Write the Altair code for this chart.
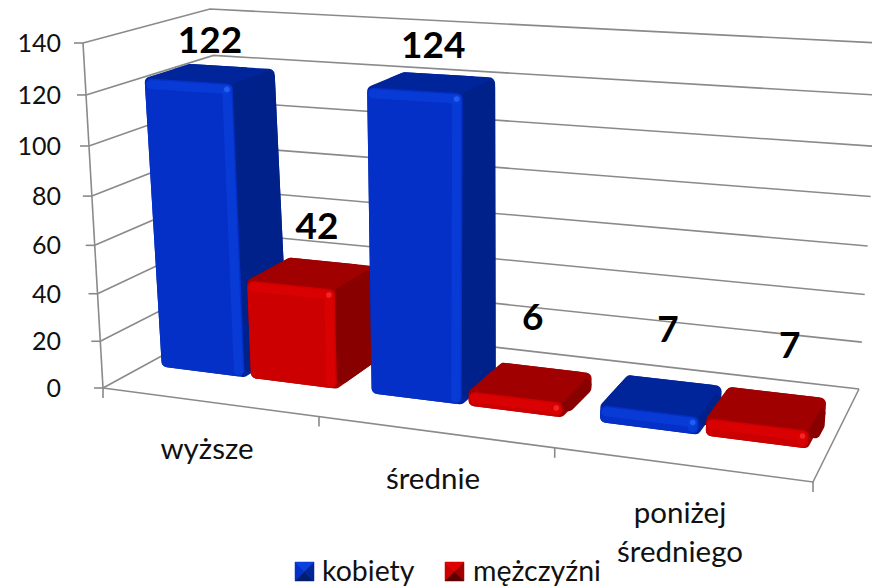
import altair as alt
import pandas as pd

# ---- data ----
categories = ["wyższe", "średnie", "poniżej średniego"]
series_names = ["kobiety", "mężczyźni"]
kobiety = [122, 124, 7]
mezczyzni = [42, 6, 7]
y_ticks = [0, 20, 40, 60, 80, 100, 120, 140]

# ---- scene geometry: corners of the 3D box as seen in the picture ----
FLOOR = [(103, 388), (813, 482), (859, 389), (233, 317)]   # FL, FR, BR, BL
CEIL = [(83, 43), (840, 87), (880, 43), (210, 9)]
VMAX = 140.0
BAR_W = 0.135
D0, D1 = 0.30, 0.66
GROUP_C = [1 / 6, 1 / 2, 5 / 6]
LINE = "#8a8a8a"
PAL = {
    "kobiety": dict(front="#0530C8", top="#00249A", side="#00208A", hi="#0A40DC", glint="#2868F4", dark="#001E70"),
    "mężczyźni": dict(front="#CC0000", top="#A00000", side="#880000", hi="#DE0202", glint="#F83030", dark="#5E0000"),
}


def homography(q):
    (x0, y0), (x1, y1), (x2, y2), (x3, y3) = q
    dx1, dx2, sx = x1 - x2, x3 - x2, x0 - x1 + x2 - x3
    dy1, dy2, sy = y1 - y2, y3 - y2, y0 - y1 + y2 - y3
    den = dx1 * dy2 - dx2 * dy1
    g = (sx * dy2 - dx2 * sy) / den
    h = (dx1 * sy - sx * dy1) / den
    a, b, c = x1 - x0 + g * x1, x3 - x0 + h * x3, x0
    d, e, f = y1 - y0 + g * y1, y3 - y0 + h * y3, y0
    def m(u, v):
        w = g * u + h * v + 1
        return (a * u + b * v + c) / w, (d * u + e * v + f) / w
    return m


H0, H1 = homography(FLOOR), homography(CEIL)


def P(u, d, val):
    t = val / VMAX
    k = 0.06
    f = t * (1 - k) / (1 - k * t)
    xa, ya = H0(u, d)
    xb, yb = H1(u, d)
    return xa + (xb - xa) * f, ya + (yb - ya) * f


def inset(pts, r):
    """Offset every edge of a convex polygon inwards by r and intersect neighbours."""
    n = len(pts)
    area = sum(pts[i][0] * pts[(i + 1) % n][1] - pts[(i + 1) % n][0] * pts[i][1] for i in range(n))
    sign = 1 if area > 0 else -1
    lines = []
    for i in range(n):
        (x0, y0), (x1, y1) = pts[i], pts[(i + 1) % n]
        dx, dy = x1 - x0, y1 - y0
        ln = (dx * dx + dy * dy) ** 0.5
        nx, ny = -dy / ln * sign, dx / ln * sign
        lines.append((x0 + nx * r, y0 + ny * r, dx, dy))
    out = []
    for i in range(n):
        ax, ay, adx, ady = lines[i - 1]
        bx, by, bdx, bdy = lines[i]
        den = adx * bdy - ady * bdx
        if abs(den) < 1e-9:
            out.append((bx, by))
            continue
        t = ((bx - ax) * bdy - (by - ay) * bdx) / den
        out.append((ax + adx * t, ay + ady * t))
    return out


poly_rows, leg_rows, hi_rows, glint_rows, label_rows, seg_rows = [], [], [], [], [], []
fid = 0


def add_poly(pts, color, rows=poly_rows):
    global fid
    fid += 1
    for i, (x, y) in enumerate(list(pts) + [pts[0]]):
        rows.append(dict(face=f"f{fid:03d}", i=i, px=x, py=y, col=color))


def add_seg(pts):
    global fid
    fid += 1
    for i, (x, y) in enumerate(pts):
        seg_rows.append(dict(seg=f"s{fid:03d}", i=i, px=x, py=y))


def add_hi(a, b, color):
    global fid
    fid += 1
    for i, (x, y) in enumerate((a, b)):
        hi_rows.append(dict(seg=f"h{fid:03d}", i=i, px=x, py=y, col=color))


# walls and floor
for v in y_ticks:
    add_seg([P(0, 0, v), P(0, 1, v), P(1, 1, v)])
    x, y = P(0, 0, v)
    add_seg([(x - 9, y), (x, y)])
add_seg([P(0, 0, 0), P(0, 0, VMAX)])
add_seg([P(0, 0, 0), P(1, 0, 0), P(1, 1, 0)])
for u in (0, 1 / 3, 2 / 3, 1):
    x, y = P(u, 0, 0)
    add_seg([(x, y), (x, y + 10)])

# bars
R = 6
LABEL_OFF = [(3, -33), (9, -47), (4, -37), (4, -65), (8, -67), (24, -64)]
n = 0
for g, c in enumerate(GROUP_C):
    for name, vals, (ua, ub) in (("kobiety", kobiety, (c - BAR_W - 0.005, c - 0.005)),
                                 ("mężczyźni", mezczyzni, (c + 0.005, c + BAR_W + 0.005))):
        v = vals[g]
        col = PAL[name]
        fbl, fbr = P(ua, D0, 0), P(ub, D0, 0)
        ftl, ftr = P(ua, D0, v), P(ub, D0, v)
        btl, btr, bbr = P(ua, D1, v), P(ub, D1, v), P(ub, D1, 0)
        # silhouette, so that no gap opens between the rounded faces
        add_poly(inset([fbl, fbr, bbr, btr, btl, ftl], R), col["top"])
        add_poly(inset([fbr, ftr, btr, bbr], R), col["side"])
        add_poly(inset([ftl, ftr, btr, btl], R), col["top"])
        front = inset([fbl, fbr, ftr, ftl], R)
        add_poly(front, col["front"])
        # soft bevel along the top and right edges of the front face
        add_hi(front[3], front[2], col["hi"])
        add_hi(front[2], front[1], col["hi"])
        glint_rows.append(dict(px=front[2][0], py=front[2][1], col=col["glint"]))
        lx, ly = P((ua + ub) / 2, 0.45, v)
        dx, dy = LABEL_OFF[n]
        n += 1
        label_rows.append(dict(px=lx + dx, py=ly + dy, txt=str(v)))

# legend markers: a bevelled square of four triangles
LEG = [(295, 562, "kobiety", 322), (445, 562, "mężczyźni", 473)]
LS = 19
text_rows = []
for x0, y0, name, tx in LEG:
    col = PAL[name]
    cx, cy = x0 + LS / 2, y0 + LS / 2
    add_poly([(x0, y0), (x0 + LS, y0), (cx, cy)], col["hi"], leg_rows)
    add_poly([(x0, y0), (x0, y0 + LS), (cx, cy)], col["front"], leg_rows)
    add_poly([(x0 + LS, y0), (x0 + LS, y0 + LS), (cx, cy)], col["top"], leg_rows)
    add_poly([(x0, y0 + LS), (x0 + LS, y0 + LS), (cx, cy)], col["dark"], leg_rows)
    text_rows.append(dict(px=tx, py=572, txt=name, al="left"))

# axis texts
for v in y_ticks:
    _, y = P(0, 0, v)
    text_rows.append(dict(px=61, py=y + 1, txt=str(v), al="right"))

cat_text = [("wyższe", 207, 450), ("średnie", 433, 480), ("poniżej", 680, 514), ("średniego", 680, 553)]
cat_rows = [dict(px=x, py=y, txt=t) for t, x, y in cat_text]

X = alt.X("px:Q", scale=alt.Scale(domain=[8, 872], nice=False, zero=False), axis=None)
Y = alt.Y("py:Q", scale=alt.Scale(domain=[588, 8], nice=False, zero=False), axis=None)

grid = alt.Chart(pd.DataFrame(seg_rows)).mark_line(stroke=LINE, strokeWidth=1.6).encode(
    x=X, y=Y, detail="seg:N", order="i:Q")
faces = alt.Chart(pd.DataFrame(poly_rows)).mark_line(strokeWidth=R * 2, strokeJoin="round", strokeCap="round").encode(
    x=X, y=Y, detail="face:N", order="i:Q",
    stroke=alt.Stroke("col:N", scale=None), fill=alt.Fill("col:N", scale=None))
leg_faces = alt.Chart(pd.DataFrame(leg_rows)).mark_line(strokeWidth=0.5, strokeJoin="round").encode(
    x=X, y=Y, detail="face:N", order="i:Q",
    stroke=alt.Stroke("col:N", scale=None), fill=alt.Fill("col:N", scale=None))
hi = alt.Chart(pd.DataFrame(hi_rows)).mark_line(strokeWidth=9, strokeCap="round", opacity=0.7).encode(
    x=X, y=Y, detail="seg:N", order="i:Q", stroke=alt.Stroke("col:N", scale=None))
glint = alt.Chart(pd.DataFrame(glint_rows)).mark_circle(size=30, opacity=0.8).encode(
    x=X, y=Y, color=alt.Color("col:N", scale=None))
labels = alt.Chart(pd.DataFrame(label_rows)).mark_text(
    font="Lato", fontSize=37, fontWeight="bold", color="black", align="center", baseline="middle"
).encode(x=X, y=Y, text="txt:N")
cat_labels = alt.Chart(pd.DataFrame(cat_rows)).mark_text(
    font="Lato", fontSize=29.5, color="#111111", align="center", baseline="middle"
).encode(x=X, y=Y, text="txt:N")
tdf = pd.DataFrame(text_rows)
left_t = alt.Chart(tdf[tdf.al == "left"]).mark_text(
    font="Lato", fontSize=28.5, color="#111111", align="left", baseline="middle"
).encode(x=X, y=Y, text="txt:N")
right_t = alt.Chart(tdf[tdf.al == "right"]).mark_text(
    font="Lato", fontSize=25, color="#111111", align="right", baseline="middle"
).encode(x=X, y=Y, text="txt:N")

chart = alt.layer(grid, faces, hi, glint, leg_faces, labels, cat_labels, left_t, right_t).properties(
    width=864, height=580, padding=0, autosize=alt.AutoSizeParams(type="none"),
    background="white",
).configure_view(stroke=None)

chart.save("out.html", embed_options={"renderer": "svg", "actions": False})
